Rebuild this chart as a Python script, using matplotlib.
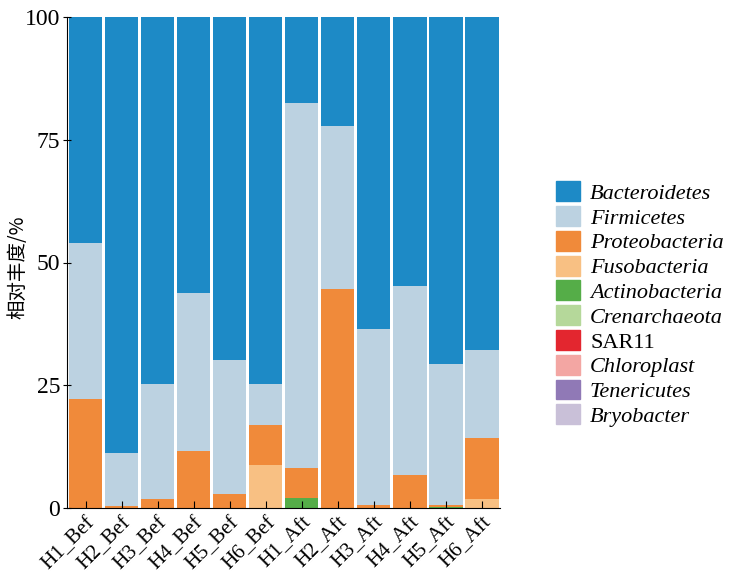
import numpy as np
import matplotlib.pyplot as plt

plt.rcParams['font.family'] = ['Liberation Serif', 'DejaVu Serif']

samples = ["H1_Bef", "H2_Bef", "H3_Bef", "H4_Bef", "H5_Bef", "H6_Bef",
           "H1_Aft", "H2_Aft", "H3_Aft", "H4_Aft", "H5_Aft", "H6_Aft"]

taxa = ["Bacteroidetes", "Firmicetes", "Proteobacteria", "Fusobacteria",
        "Actinobacteria", "Crenarchaeota", "SAR11", "Chloroplast",
        "Tenericutes", "Bryobacter"]

colors = ["#1d8ac6", "#bcd2e1", "#f08a3a", "#f8c083", "#55ad48",
          "#b5d89a", "#e3262f", "#f3a6a3", "#9079b6", "#c9c0d8"]

# relative abundance (%)
actino = np.array([0, 0, 0, 0, 0, 0, 2.0, 0, 0, 0, 0.3, 0])
fuso = np.array([0, 0, 0, 0, 0, 8.7, 0, 0, 0, 0, 0, 1.8])
proteo = np.array([22.2, 0.5, 1.8, 11.6, 2.9, 8.3, 6.1, 44.6, 0.6, 6.8, 0.4, 12.5])
firmi = np.array([31.8, 10.6, 23.4, 32.2, 27.2, 8.3, 74.4, 33.2, 35.9, 38.4, 28.6, 17.9])
bactero = 100 - actino - fuso - proteo - firmi

fig = plt.figure(figsize=(7.31, 5.77), dpi=100)
ax = fig.add_axes([67/731, 69/577, 433/731, 491/577])

x = np.arange(len(samples))
w = 0.92
order = [("Actinobacteria", actino), ("Fusobacteria", fuso),
         ("Proteobacteria", proteo), ("Firmicetes", firmi),
         ("Bacteroidetes", bactero)]
bottom = np.zeros(12)
for name, vals in order:
    ax.bar(x, vals, w, bottom=bottom, color=colors[taxa.index(name)], linewidth=0)
    bottom += vals

# legend in the original order (all taxa, incl. the ones too small to see)
handles = [plt.Rectangle((0, 0), 1, 1, color=c) for c in colors]
leg = ax.legend(handles, taxa, loc="center left", bbox_to_anchor=(0.760, 0.473),
                bbox_transform=fig.transFigure, borderaxespad=0, borderpad=0,
                frameon=False, fontsize=16, handlelength=1.1, handleheight=1.0,
                labelspacing=0.1, handletextpad=0.45)
for t in leg.get_texts():
    if t.get_text() != "SAR11":
        t.set_fontstyle("italic")

ax.set_xlim(-0.52, 11.5)
ax.set_ylim(0, 100)
ax.set_yticks([0, 25, 50, 75, 100])
ax.set_xticks(x)
ax.set_xticklabels(samples, rotation=45, ha="right", rotation_mode="anchor", fontsize=15)
ax.tick_params(axis="y", labelsize=17, direction="inout", length=6, pad=2)
ax.tick_params(axis="x", direction="in", length=5)
ax.spines["top"].set_visible(False)
ax.spines["right"].set_visible(False)
ax.set_ylabel("相对丰度/%", family=["Noto Sans CJK SC", "DejaVu Sans"], fontsize=14)
ax.yaxis.set_label_coords(-0.088, 0.49)

plt.savefig("out.png", dpi=100)
